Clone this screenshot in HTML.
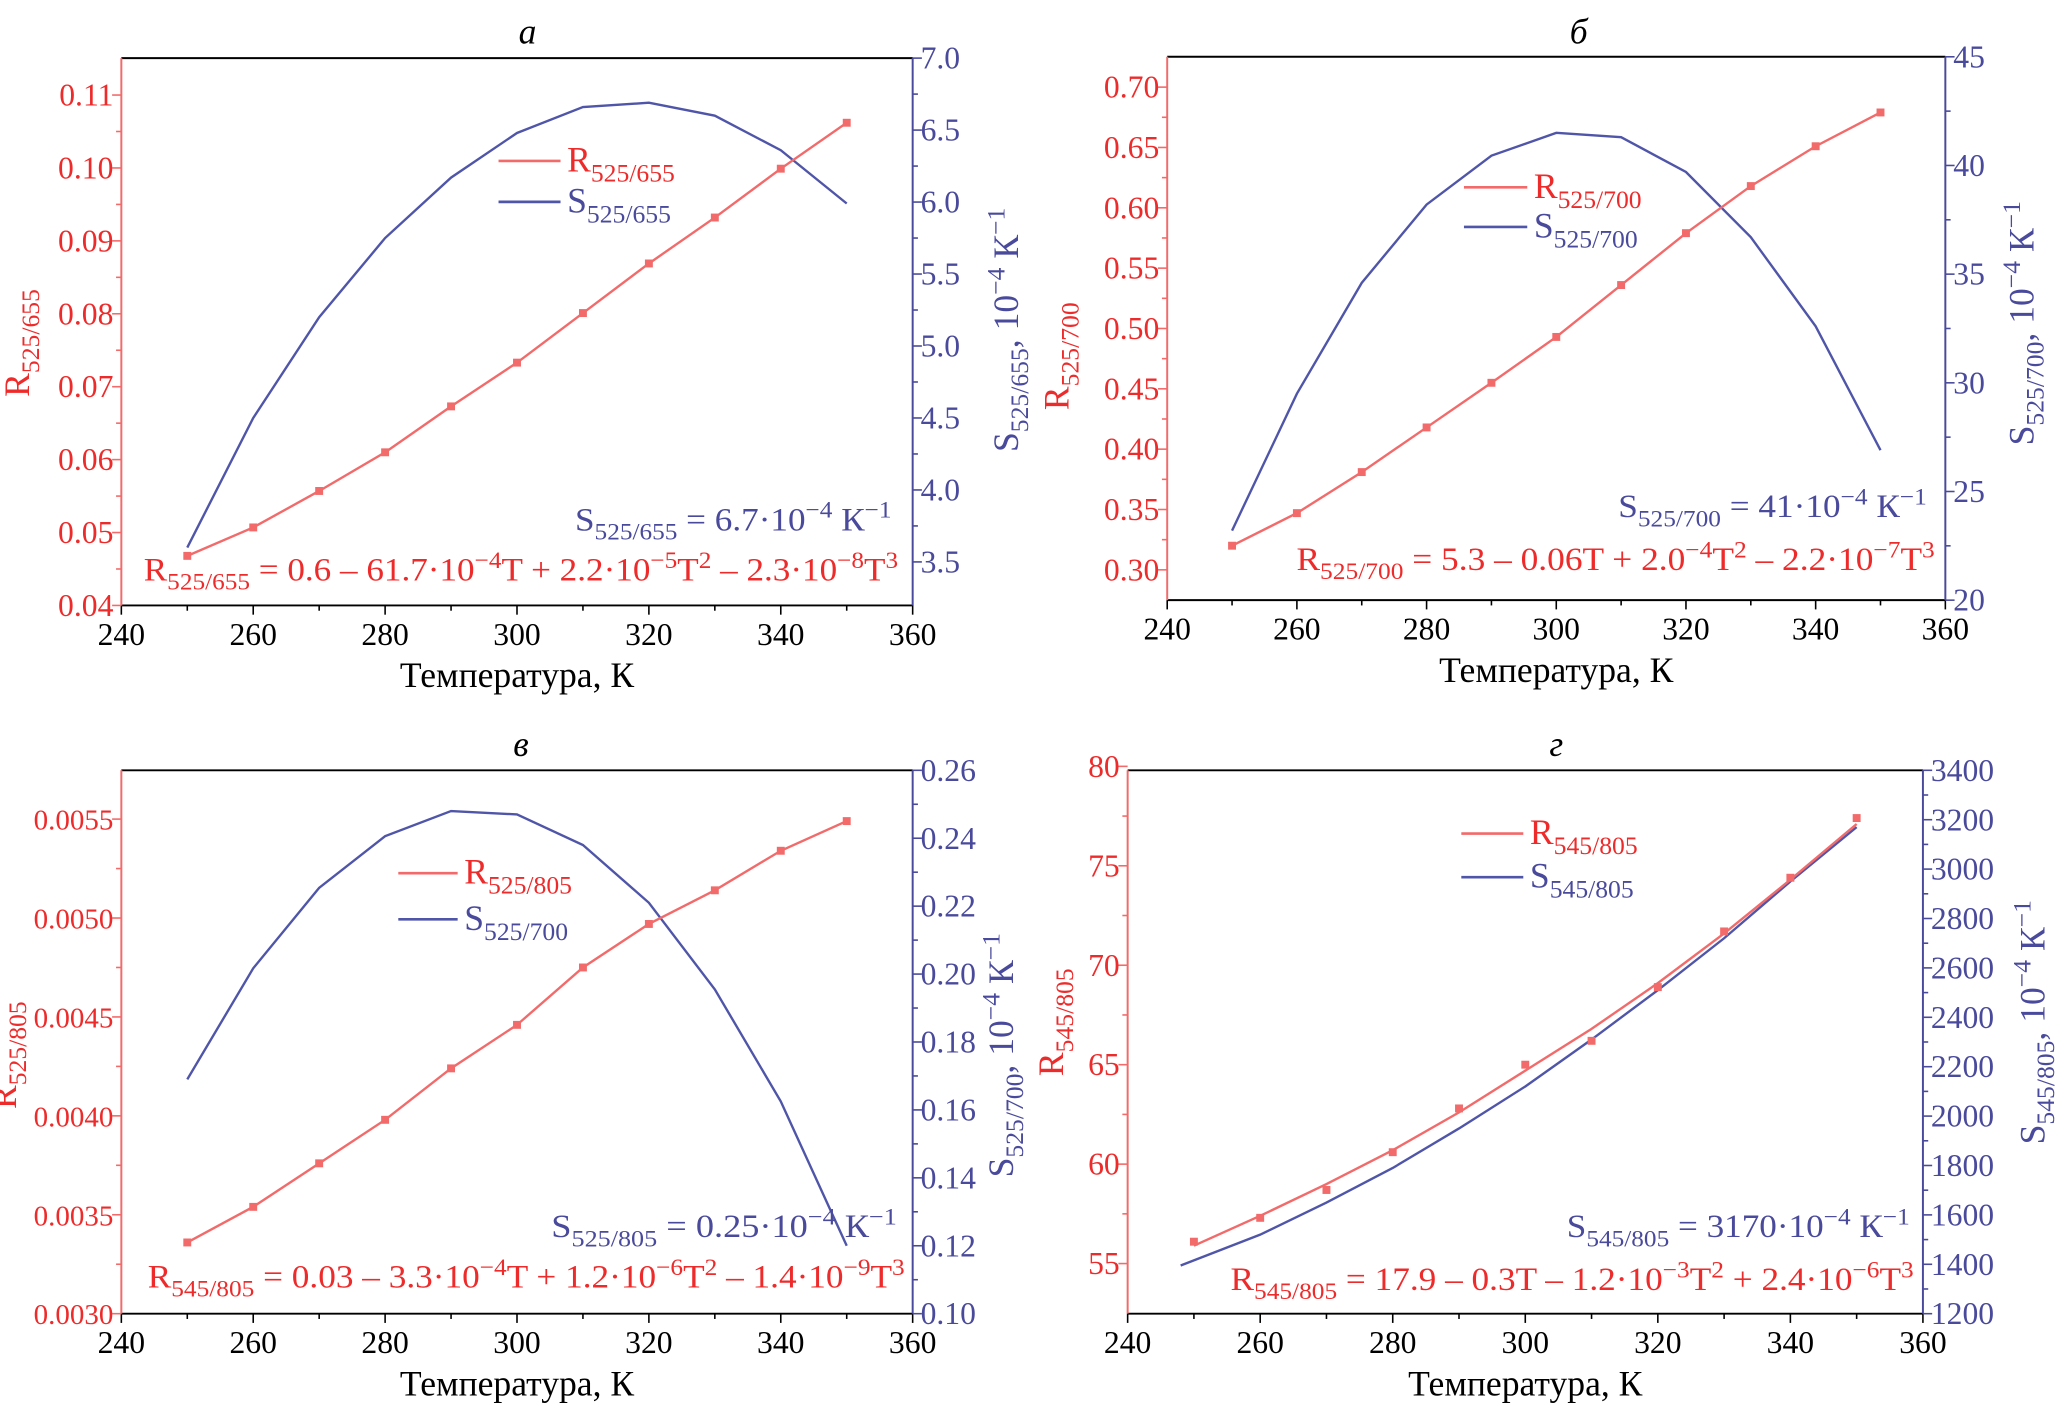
<!DOCTYPE html>
<html><head><meta charset="utf-8"><style>
html,body{margin:0;padding:0;background:#fff;}
svg, svg text, svg tspan{font-family:"Liberation Serif","Noto Serif CJK SC",serif;}
</style></head><body>
<svg id="fig" width="2068" height="1414" viewBox="0 0 1568 1072" font-family="Liberation Serif, serif" xmlns="http://www.w3.org/2000/svg"></svg>
<script>
// ---- data (T in K) ----
const temps = [250,260,270,280,290,300,310,320,330,340,350];
const aR = [0.0468,0.0507,0.0557,0.0610,0.0673,0.0733,0.0801,0.0869,0.0932,0.0999,0.1062];
const aS = [3.6,4.5,5.2,5.75,6.17,6.48,6.66,6.69,6.6,6.36,5.99];
const bR = [0.320,0.347,0.381,0.418,0.455,0.493,0.536,0.579,0.618,0.651,0.679];
const bS = [23.2,29.5,34.6,38.2,40.45,41.5,41.3,39.7,36.7,32.6,26.9];
const cR = [0.00336,0.00354,0.00376,0.00398,0.00424,0.00446,0.00475,0.00497,0.00514,0.00534,0.00549];
const cS = [0.169,0.2017,0.2254,0.2406,0.248,0.247,0.238,0.221,0.1955,0.1625,0.12];
const dR = [56.1,57.3,58.7,60.6,62.8,65.0,66.2,68.9,71.7,74.4,77.4];
const dRfit = [55.9,57.4,59.0,60.7,62.6,64.7,66.8,69.1,71.6,74.3,77.1];
const dStemps = [248,260,270,280,290,300,310,320,330,340,350];
const dS = [1395,1520,1650,1790,1950,2120,2310,2510,2720,2950,3170];
const xTicks = [240,260,280,300,320,340,360];

const RED='#ee2b2b', REDL='#f26a6a', BLUE='#4a4a9c', BLUEL='#4f55a8';
const FF='Liberation Serif, serif';
const NS='http://www.w3.org/2000/svg';
const svg=document.getElementById('fig');
function mk(tag,attrs,parent){const e=document.createElementNS(NS,tag);for(const k in attrs)e.setAttribute(k,attrs[k]);if(tag==='text')e.setAttribute('font-family',FF);(parent||svg).appendChild(e);return e;}
function rich(parent,x,y,parts,size,fill,anchor,rot){
  const t=mk('text',{x:x,y:y,'font-size':size,fill:fill,'text-anchor':anchor||'start'},parent);
  if(rot)t.setAttribute('transform','rotate('+rot+' '+x+' '+y+')');
  parts.forEach(p=>{const s=mk('tspan',{},t);s.textContent=p[0];
    if(p[1]==='sub'){s.setAttribute('font-size',size*0.72);s.setAttribute('dy',size*0.28);}
    else if(p[1]==='sup'){s.setAttribute('font-size',size*0.72);s.setAttribute('dy',-size*0.38);}
    else if(p[1]==='back-sub'){s.setAttribute('dy',-size*0.28);}
    else if(p[1]==='back-sup'){s.setAttribute('dy',size*0.38);}
  });
  return t;
}

function panel(cfg){
  const g=mk('g',{});
  
  
  const X=v=>cfg.x0+(v-240)/120*(cfg.x1-cfg.x0);
  const L=v=>cfg.l.y1+(v-cfg.l.v1)/(cfg.l.v2-cfg.l.v1)*(cfg.l.y2-cfg.l.y1);
  const R=v=>cfg.r.y1+(v-cfg.r.v1)/(cfg.r.v2-cfg.r.v1)*(cfg.r.y2-cfg.r.y1);
  const top=mk('line',{x1:cfg.x0,y1:cfg.y0,x2:cfg.x1,y2:cfg.y0,stroke:'#000','stroke-width':1.5},g);
  
  const bot=mk('line',{x1:cfg.x0,y1:cfg.y1,x2:cfg.x1,y2:cfg.y1,stroke:'#000','stroke-width':1.5},g);
  
  const la=mk('line',{x1:cfg.x0,y1:cfg.y0,x2:cfg.x0,y2:cfg.y1,stroke:REDL,'stroke-width':1.5},g);
  
  const ra=mk('line',{x1:cfg.x1,y1:cfg.y0,x2:cfg.x1,y2:cfg.y1,stroke:BLUE,'stroke-width':1.5},g);
  
  for(let v=240;v<=360;v+=10){const x=X(v);mk('line',{x1:x,y1:cfg.y1,x2:x,y2:cfg.y1+(v%20===0?7:4),stroke:'#000','stroke-width':1.2},g);}
  xTicks.forEach(v=>{const t=mk('text',{x:X(v),y:cfg.y1+30,'font-size':24,'text-anchor':'middle',fill:'#000'},g);t.textContent=v;
    });
  const xt=mk('text',{x:(cfg.x0+cfg.x1)/2,y:cfg.y1+62,'font-size':27,'text-anchor':'middle',fill:'#000'},g);
  xt.textContent='Температура, К';
  cfg.lTicks.forEach((v,i)=>{const y=L(v);mk('line',{x1:cfg.x0-7,y1:y,x2:cfg.x0,y2:y,stroke:REDL,'stroke-width':1.2},g);
    const t=mk('text',{x:cfg.x0-6,y:y+8,'font-size':cfg.lFs||24,'text-anchor':'end',fill:RED},g);t.textContent=v.toFixed(cfg.lDec);
    
    if(i<cfg.lTicks.length-1){const ym=L((v+cfg.lTicks[i+1])/2);mk('line',{x1:cfg.x0-4,y1:ym,x2:cfg.x0,y2:ym,stroke:REDL,'stroke-width':1.2},g);}
  });
  cfg.rTicks.forEach((v,i)=>{const y=R(v);mk('line',{x1:cfg.x1,y1:y,x2:cfg.x1+7,y2:y,stroke:BLUE,'stroke-width':1.2},g);
    const t=mk('text',{x:cfg.x1+6,y:y+8,'font-size':24,'text-anchor':'start',fill:BLUE},g);t.textContent=v.toFixed(cfg.rDec);
    
    if(i<cfg.rTicks.length-1){const ym=R((v+cfg.rTicks[i+1])/2);mk('line',{x1:cfg.x1,y1:ym,x2:cfg.x1+4,y2:ym,stroke:BLUE,'stroke-width':1.2},g);}
  });
  const tt=mk('text',{x:cfg.title[1],y:cfg.title[2],'font-size':27,'font-style':'italic','text-anchor':'middle',fill:'#000'},g);
  tt.textContent=cfg.title[0];
  const lt=rich(g,cfg.lLab[0],cfg.lLab[1],[['R'],[cfg.lSub,'sub']],27,RED,'middle',-90);
  
  const rt=rich(g,cfg.rLab[0],cfg.rLab[1],[['S'],[cfg.rSub,'sub'],[', 10','back-sub'],['−4','sup'],[' К','back-sup'],['−1','sup']],27,BLUE,'middle',-90);
  
  const sx=cfg.sT||temps;
  const sp=mk('polyline',{points:sx.map((t,i)=>X(t)+','+R(cfg.S[i])).join(' '),fill:'none',stroke:BLUEL,'stroke-width':1.8},g);
  
  const rl=cfg.Rfit||cfg.R;
  const rp=mk('polyline',{points:temps.map((t,i)=>X(t)+','+L(rl[i])).join(' '),fill:'none',stroke:REDL,'stroke-width':1.8},g);
  
  cfg.R.forEach((v,i)=>{const m=mk('rect',{x:X(temps[i])-3,y:L(v)-3,width:6,height:6,fill:REDL},g);
    });
  const lg=mk('g',{},g);
  const [lx1,lx2,ly1,ly2]=cfg.leg;
  mk('line',{x1:lx1,y1:ly1,x2:lx2,y2:ly1,stroke:REDL,'stroke-width':2},lg);
  mk('line',{x1:lx1,y1:ly2,x2:lx2,y2:ly2,stroke:BLUEL,'stroke-width':2},lg);
  const le1=rich(lg,lx2+5,ly1+8,[['R'],[cfg.lSub,'sub']],27,RED);
  const le2=rich(lg,lx2+5,ly2+8,[['S'],[cfg.rSub,'sub']],27,BLUE);
  const e1=rich(g,cfg.sEq[0],cfg.sEq[1],cfg.sEq[2],25,BLUE,'end');
  
  e1.setAttribute('textLength',cfg.sEq[3]);e1.setAttribute('lengthAdjust','spacingAndGlyphs');
  const e2=rich(g,cfg.rEq[0],cfg.rEq[1],cfg.rEq[2],25,RED,'end');
  
  e2.setAttribute('textLength',cfg.rEq[3]);e2.setAttribute('lengthAdjust','spacingAndGlyphs');
}
function rng(a,b,s){const r=[];for(let v=a;v<=b+s/1e3;v+=s)r.push(+v.toFixed(6));return r;}

panel({name:'panel-a',x0:92,x1:692,y0:44,y1:459,title:['a',400,33],
  l:{v1:0.04,y1:459,v2:0.11,y2:72},r:{v1:3.5,y1:426,v2:7.0,y2:44},
  lTicks:rng(0.04,0.11,0.01),lDec:2,rTicks:rng(3.5,7.0,0.5),rDec:1,
  lLab:[22,260],rLab:[772,250],lSub:'525/655',rSub:'525/655',R:aR,S:aS,leg:[378,425,122,153],
  sEq:[676,402,[['S'],['525/655','sub'],[' = 6.7·10','back-sub'],['−4','sup'],[' К','back-sup'],['−1','sup']],240],
  rEq:[681,440,[['R'],['525/655','sub'],[' = 0.6 – 61.7·10','back-sub'],['−4','sup'],['T + 2.2·10','back-sup'],['−5','sup'],['T','back-sup'],['2','sup'],[' – 2.3·10','back-sup'],['−8','sup'],['T','back-sup'],['3','sup']],572]});

panel({name:'panel-b',x0:885,x1:1475,y0:43,y1:455,title:['б',1197,33],
  l:{v1:0.30,y1:432,v2:0.70,y2:66},r:{v1:20,y1:455,v2:45,y2:43},
  lTicks:rng(0.30,0.70,0.05),lDec:2,rTicks:rng(20,45,5),rDec:0,
  lLab:[810,270],rLab:[1542,245],lSub:'525/700',rSub:'525/700',R:bR,S:bS,leg:[1110,1158,142,172],
  sEq:[1461,392,[['S'],['525/700','sub'],[' = 41·10','back-sub'],['−4','sup'],[' К','back-sup'],['−1','sup']],234],
  rEq:[1467,432,[['R'],['525/700','sub'],[' = 5.3 – 0.06T + 2.0','back-sub'],['−4','sup'],['T','back-sup'],['2','sup'],[' – 2.2·10','back-sup'],['−7','sup'],['T','back-sup'],['3','sup']],484]});

panel({name:'panel-c',x0:92,x1:692,y0:584,y1:996,title:['в',395,573],
  l:{v1:0.0030,y1:996,v2:0.0055,y2:621},r:{v1:0.10,y1:996,v2:0.26,y2:584},
  lTicks:rng(0.0030,0.0055,0.0005),lDec:4,lFs:22,rTicks:rng(0.10,0.26,0.02),rDec:2,
  lLab:[12,800],rLab:[768,800],lSub:'525/805',rSub:'525/700',R:cR,S:cS,leg:[302,347,662,697],
  sEq:[680,938,[['S'],['525/805','sub'],[' = 0.25·10','back-sub'],['−4','sup'],[' К','back-sup'],['−1','sup']],262],
  rEq:[686,976,[['R'],['545/805','sub'],[' = 0.03 – 3.3·10','back-sub'],['−4','sup'],['T + 1.2·10','back-sup'],['−6','sup'],['T','back-sup'],['2','sup'],[' – 1.4·10','back-sup'],['−9','sup'],['T','back-sup'],['3','sup']],574]});

panel({name:'panel-d',x0:855,x1:1458,y0:584,y1:996,title:['г',1180,573],
  l:{v1:55,y1:958,v2:80,y2:581},r:{v1:1200,y1:996,v2:3400,y2:584},
  lTicks:rng(55,80,5),lDec:0,rTicks:rng(1200,3400,200),rDec:0,
  lLab:[806,775],rLab:[1550,775],lSub:'545/805',rSub:'545/805',R:dR,Rfit:dRfit,S:dS,sT:dStemps,leg:[1108,1155,632,665],
  sEq:[1448,938,[['S'],['545/805','sub'],[' = 3170·10','back-sub'],['−4','sup'],[' К','back-sup'],['−1','sup']],260],
  rEq:[1451,978,[['R'],['545/805','sub'],[' = 17.9 – 0.3T – 1.2·10','back-sub'],['−3','sup'],['T','back-sup'],['2','sup'],[' + 2.4·10','back-sup'],['−6','sup'],['T','back-sup'],['3','sup']],518]});
</script>
</body></html>
